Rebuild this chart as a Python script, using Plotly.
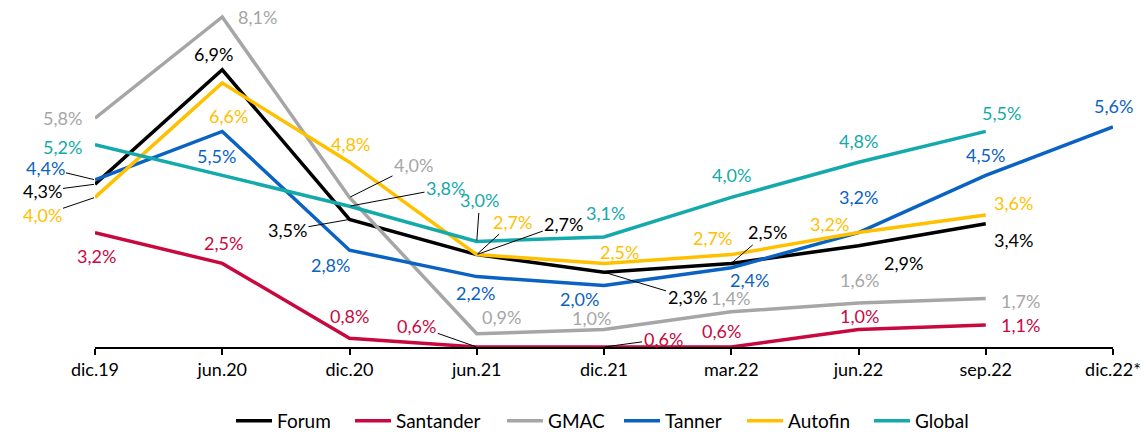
import plotly.graph_objects as go

categories = ["dic.19", "jun.20", "dic.20", "jun.21", "dic.21", "mar.22", "jun.22", "sep.22", "dic.22*"]

forum = [4.3, 6.9, 3.5, 2.7, 2.3, 2.5, 2.9, 3.4, None]
santander = [3.2, 2.5, 0.8, 0.6, 0.6, 0.6, 1.0, 1.1, None]
gmac = [5.8, 8.1, 4.0, 0.9, 1.0, 1.4, 1.6, 1.7, None]
tanner = [4.4, 5.5, 2.8, 2.2, 2.0, 2.4, 3.2, 4.5, 5.6]
autofin = [4.0, 6.6, 4.8, 2.7, 2.5, 2.7, 3.2, 3.6, None]
global_ = [5.2, None, 3.8, 3.0, 3.1, 4.0, 4.8, 5.5, None]

series = [
    ("Forum", forum, "#000000"),
    ("Santander", santander, "#C8093F"),
    ("GMAC", gmac, "#A6A6A6"),
    ("Tanner", tanner, "#0A62C2"),
    ("Autofin", autofin, "#FFC000"),
    ("Global", global_, "#14A9AA"),
]

# label offsets in pixels (dx right, dy down), and whether a leader line is drawn
offsets = {
    "Forum": [(-53, 7, True), (-9, -16, False), (-62, 11, True), (87, -31, True), (83, 25, True),
              (36, -31, True), (45, 17, False), (28, 16, False), None],
    "Santander": [(1, 23, False), (1, -20, False), (0, -22, False), (-60, -21, True), (59, -8, True),
                  (-10, -16, False), (1, -13, False), (35, 0, False), None],
    "GMAC": [(-33, 0, False), (35, 0, False), (64, -32, True), (25, -17, False), (-13, -11, False),
             (-1, -14, False), (1, -23, False), (35, 2, False), None],
    "Tanner": [(-50, -12, True), (-6, 25, False), (-19, 15, False), (-1, 16, False), (-25, 14, False),
               (18, 12, False), (0, -36, False), (0, -20, False), (0, -21, False)],
    "Autofin": [(-53, 18, True), (6, 33, False), (1, -18, False), (36, -33, True), (15, -11, False),
                (-19, -17, False), (-29, -9, False), (28, -12, False), None],
    "Global": [(-33, 2, False), None, (96, -18, True), (3, -41, True), (1, -24, False),
               (0, -22, False), (0, -21, False), (16, -18, False), None],
}

# legend entry left edges (pixels)
legend_px = [237, 356, 508, 625, 748, 875]

FONT = "Lato"
FS = 18
L, R, T, B = 95, 33, 10, 88
W, H = 1146, 435
plot_w = W - L - R
plot_h = H - T - B

fig = go.Figure()
annotations = []
layout_legends = {}
for k, (name, vals, color) in enumerate(series):
    lg = "legend" if k == 0 else f"legend{k + 1}"
    fig.add_trace(go.Scatter(
        x=categories, y=vals, name=name, mode="lines",
        line=dict(color=color, width=3.5), connectgaps=True, legend=lg,
    ))
    layout_legends[lg] = dict(
        x=(legend_px[k] - 6 - L) / plot_w, xanchor="left",
        y=-(H + 5 - (H - B)) / plot_h, yanchor="bottom",
        orientation="h", bgcolor="rgba(0,0,0,0)", borderwidth=0,
        font=dict(family=FONT, size=19, color="#000000"), itemwidth=36,
    )
    for i, v in enumerate(vals):
        off = offsets[name][i]
        if v is None or off is None:
            continue
        dx, dy, leader = off
        text = f"{v:.1f}%".replace(".", ",")
        if leader:
            annotations.append(dict(
                x=categories[i], y=v, xref="x", yref="y", text=text,
                showarrow=True, arrowhead=0, arrowwidth=1, arrowcolor="#000000",
                ax=dx, ay=dy, standoff=1,
                font=dict(family=FONT, size=FS, color=color),
            ))
        else:
            annotations.append(dict(
                x=categories[i], y=v, xref="x", yref="y", text=text,
                showarrow=False, xshift=dx, yshift=-dy,
                font=dict(family=FONT, size=FS, color=color),
            ))

fig.update_layout(
    width=W, height=H,
    margin=dict(l=L, r=R, t=T, b=B, autoexpand=False),
    paper_bgcolor="white", plot_bgcolor="white",
    font=dict(family=FONT, size=FS, color="#000000"),
    showlegend=True,
    annotations=annotations,
    **layout_legends,
)
fig.update_xaxes(
    type="category", range=[0, len(categories) - 1], automargin=False,
    showline=True, linecolor="#000000", linewidth=1.5,
    ticks="outside", ticklen=6, tickwidth=1.5, tickcolor="#000000",
    showgrid=False, zeroline=False,
    tickfont=dict(family=FONT, size=FS, color="#000000"),
)
fig.update_yaxes(
    range=[0.6, 0.6 + plot_h / 44.0], visible=False, showgrid=False, zeroline=False,
    automargin=False,
)

fig.write_html(
    "out.html",
    config={"displayModeBar": False},
    post_script="document.body.style.margin='0';document.body.style.overflow='hidden';",
)
